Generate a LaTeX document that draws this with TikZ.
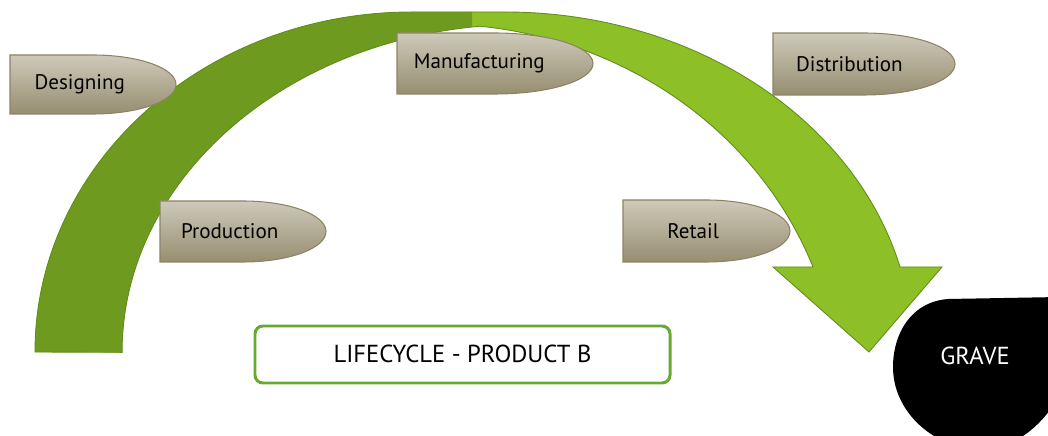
\documentclass[tikz,border=0pt]{standalone}
\usepackage{fontspec}
\setmainfont{PT Sans}
\usepackage{tikz}
\usetikzlibrary{positioning}

\definecolor{archdark}{RGB}{111,154,32}
\definecolor{archlight}{RGB}{141,192,39}
\definecolor{archedge}{RGB}{98,140,30}
\definecolor{tabtop}{RGB}{206,201,186}
\definecolor{tabbottom}{RGB}{150,142,112}
\definecolor{tabedge}{RGB}{140,131,100}
\definecolor{boxgreen}{RGB}{102,170,52}

\tikzset{
  tabshape/.style={top color=tabtop,bottom color=tabbottom,draw=tabedge,line width=0.6pt},
  tabtext/.style={font=\fontsize{12}{14}\selectfont,text=black},
  titlebox/.style={draw=boxgreen,line width=1.7pt,rounded corners=4.5pt,fill=white},
  bigtext/.style={font=\fontsize{14}{16}\selectfont},
}

\newcommand\archpath{(35,84) arc[start angle=180,end angle=90,x radius=377,y radius=340]
  -- (505,424) arc[start angle=90,end angle=14.48,x radius=408,y radius=340]
  -- (942,169) -- (869,84) -- (773,169) -- (813,169)
  arc[start angle=20.71,end angle=83.73,x radius=403,y radius=376]
  arc[start angle=96.16,end angle=180,x radius=401,y radius=328] -- cycle}

\newcommand\tabnode[6]{%
  \shade[tabshape] (#2,#3) -- ++(0.5*#4,0) arc[start angle=90,end angle=-90,x radius=0.5*#4,y radius=0.5*#5] -- ++(-0.5*#4,0) -- cycle;
  \node[tabtext] (#1) at (#2+0.42*#4,#3-0.5*#5) {#6};
}

\begin{document}
\begin{tikzpicture}[x=0.02cm,y=0.02cm]
\useasboundingbox (0,0) rectangle (1048,436);
\clip (0,0) rectangle (1048,436);

\fill[archlight] \archpath;
\begin{scope}
\clip (0,0) rectangle (472,436);
\fill[archdark] \archpath;
\end{scope}
\draw[archedge,line width=0.5pt] \archpath;

\tabnode{designing}{10}{381}{166}{59}{Designing}
\tabnode{manufacturing}{397}{403}{196}{61}{Manufacturing}
\tabnode{distribution}{773}{403}{182}{62}{Distribution}
\tabnode{production}{160}{235}{166}{61}{Production}
\tabnode{retail}{623}{236}{167}{62}{Retail}

\draw[titlebox] (255,53) rectangle (670,110);
\node[bigtext] (title) at (462.5,82) {LIFECYCLE - PRODUCT B};

\fill[black] (1060,139) -- (948,137) .. controls (910,134) and (893,101) .. (893,69) .. controls (893,26) and (930,-9) .. (975,-14) .. controls (1020,-14) and (1045,16) .. (1060,41) -- cycle;
\node[bigtext,text=white] (grave) at (975,80) {GRAVE};
\end{tikzpicture}
\end{document}
